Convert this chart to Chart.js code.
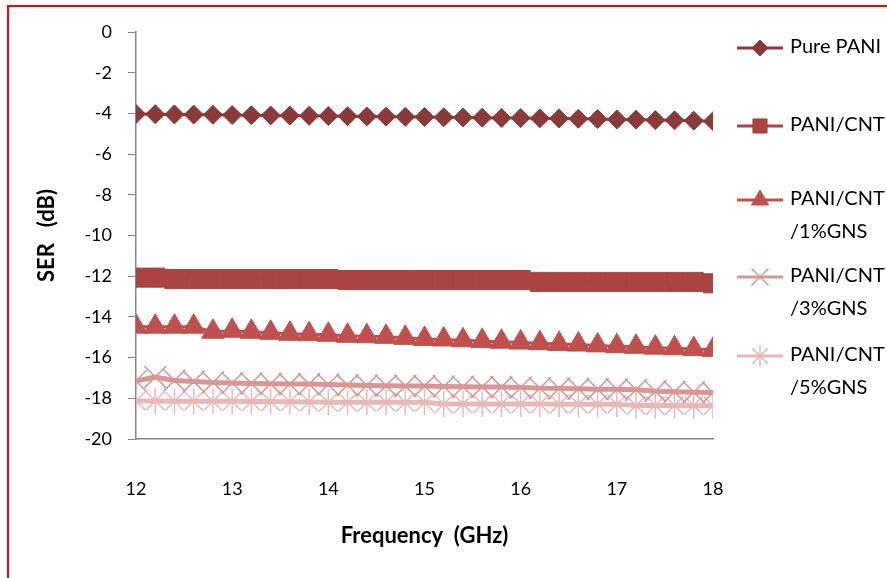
<!DOCTYPE html>
<html>
<head>
<meta charset="utf-8">
<script src="https://cdn.jsdelivr.net/npm/chart.js@4.4.1/dist/chart.umd.min.js"></script>
<style>
  html, body { margin: 0; padding: 0; background: #fff; overflow: hidden; }
  #wrap { position: relative; width: 887px; height: 578px; overflow: hidden; }
  #frame { position: absolute; left: 7px; top: 5px; width: 900px; height: 600px; border: 2px solid #ff0000; }
  #chart { position: absolute; left: 0; top: 0; }
</style>
</head>
<body>
<div id="wrap">
  <div id="frame"></div>
  <canvas id="chart" width="887" height="578"></canvas>
</div>
<script>
// Frequency points (GHz)
const freq = [12, 12.2, 12.4, 12.6, 12.8, 13, 13.2, 13.4, 13.6, 13.8, 14, 14.2, 14.4, 14.6, 14.8, 15,
  15.2, 15.4, 15.6, 15.8, 16, 16.2, 16.4, 16.6, 16.8, 17, 17.2, 17.4, 17.6, 17.8, 18];

// SER (dB) per sample
const purePani = [-4.03, -4.04, -4.05, -4.06, -4.07, -4.08, -4.09, -4.1, -4.11, -4.12, -4.13, -4.14, -4.15, -4.16, -4.17, -4.18,
  -4.19, -4.2, -4.21, -4.22, -4.23, -4.24, -4.25, -4.26, -4.28, -4.3, -4.31, -4.33, -4.34, -4.36, -4.38];
const paniCnt = [-12.07, -12.07, -12.14, -12.14, -12.14, -12.14, -12.14, -12.14, -12.14, -12.14, -12.14, -12.19, -12.19, -12.19, -12.19, -12.19,
  -12.19, -12.19, -12.19, -12.19, -12.19, -12.28, -12.28, -12.28, -12.28, -12.28, -12.28, -12.28, -12.28, -12.28, -12.35];
const gns1 = [-14.48, -14.48, -14.48, -14.48, -14.73, -14.68, -14.73, -14.78, -14.83, -14.85, -14.88, -14.93, -14.95, -14.98, -15.03, -15.08,
  -15.11, -15.15, -15.18, -15.22, -15.26, -15.29, -15.33, -15.36, -15.4, -15.44, -15.47, -15.51, -15.54, -15.58, -15.62];
const gns3 = [-17.15, -16.95, -17.12, -17.18, -17.22, -17.25, -17.27, -17.28, -17.3, -17.3, -17.32, -17.35, -17.37, -17.38, -17.4, -17.4,
  -17.42, -17.43, -17.44, -17.45, -17.47, -17.5, -17.52, -17.53, -17.55, -17.56, -17.58, -17.65, -17.68, -17.7, -17.72];
const gns5 = [-18.13, -18.13, -18.14, -18.14, -18.15, -18.15, -18.16, -18.16, -18.17, -18.18, -18.2, -18.2, -18.2, -18.2, -18.2, -18.2,
  -18.28, -18.28, -18.28, -18.28, -18.28, -18.28, -18.29, -18.29, -18.29, -18.29, -18.35, -18.35, -18.35, -18.36, -18.37];

const seriesNames = ["Pure PANI", "PANI/CNT", ["PANI/CNT", "/1%GNS"], ["PANI/CNT", "/3%GNS"], ["PANI/CNT", "/5%GNS"]];
const xTicks = [12, 13, 14, 15, 16, 17, 18];
const yTicks = [0, -2, -4, -6, -8, -10, -12, -14, -16, -18, -20];

const FONT = "Lato, 'Liberation Sans', sans-serif";
const AXIS_GREY = "#868686";

function toPoints(ys) {
  return freq.map((x, i) => ({ x, y: ys[i] }));
}

const styles = [
  { color: "#8a3a38", point: "rectRot", radius: 9.5, legendRadius: 8, width: 3 },
  { color: "#a94442", point: "rect", radius: 13.5, legendRadius: 10, width: 3 },
  { color: "#c0504d", point: "triangle", radius: 13, legendRadius: 10, width: 3 },
  { color: "#d99694", point: "crossRot", radius: 15.5, legendRadius: 12, width: 5 },
  { color: "#e6b9b8", point: "star", radius: 13, legendRadius: 11, width: 5 }
];
const seriesData = [purePani, paniCnt, gns1, gns3, gns5];

const datasets = seriesData.map((ys, i) => ({
  label: Array.isArray(seriesNames[i]) ? seriesNames[i].join(" ") : seriesNames[i],
  data: toPoints(ys),
  borderColor: styles[i].color,
  backgroundColor: styles[i].color,
  borderWidth: styles[i].width,
  pointStyle: styles[i].point,
  pointRadius: styles[i].radius,
  pointBorderWidth: (styles[i].point === "crossRot" || styles[i].point === "star") ? 1.5 : 1,
  pointBackgroundColor: styles[i].color,
  pointBorderColor: styles[i].color,
  tension: 0,
  order: i
}));

// legend drawn on the right like the spreadsheet one
const legendY = [47, 125, 199, 276, 355];
const sideLegend = {
  id: "sideLegend",
  afterDraw(chart) {
    const ctx = chart.ctx;
    ctx.save();
    seriesNames.forEach((name, i) => {
      const s = styles[i];
      const y = legendY[i] + 1;
      ctx.strokeStyle = s.color;
      ctx.lineWidth = 3;
      ctx.beginPath();
      ctx.moveTo(737, y);
      ctx.lineTo(783, y);
      ctx.stroke();
      ctx.fillStyle = s.color;
      ctx.lineWidth = (s.point === "crossRot" || s.point === "star") ? 1.5 : 1;
      if (Chart.helpers && Chart.helpers.drawPoint) {
        Chart.helpers.drawPoint(ctx, { pointStyle: s.point, radius: s.legendRadius, rotation: 0, borderWidth: ctx.lineWidth }, 760, y);
      }
      ctx.fillStyle = "#000";
      ctx.font = "20px " + FONT;
      ctx.textBaseline = "middle";
      ctx.textAlign = "left";
      const lines = Array.isArray(name) ? name : [name];
      lines.forEach((t, k) => ctx.fillText(t, 790, legendY[i] + k * 33));
    });
    ctx.restore();
  }
};

new Chart(document.getElementById("chart"), {
  type: "line",
  data: { datasets },
  options: {
    responsive: false,
    animation: false,
    layout: { padding: { left: 34, top: 32, right: 174, bottom: 25 } },
    plugins: { legend: { display: false }, tooltip: { enabled: false } },
    scales: {
      x: {
        type: "linear",
        min: 12,
        max: 18,
        afterBuildTicks: scale => { scale.ticks = xTicks.map(v => ({ value: v })); },
        afterFit: scale => { scale.height = 114; },
        grid: { drawOnChartArea: false, drawTicks: false },
        border: { color: AXIS_GREY, width: 1.5 },
        ticks: { padding: 39, color: "#000", font: { family: FONT, size: 18 }, maxRotation: 0 },
        title: { display: true, text: "Frequency  (GHz)", color: "#000", font: { family: FONT, size: 22, weight: "bold" }, padding: { top: 0, bottom: 4 } }
      },
      y: {
        min: -20,
        max: 0,
        afterBuildTicks: scale => { scale.ticks = yTicks.map(v => ({ value: v })); },
        afterFit: scale => { scale.width = 102; },
        grid: { drawOnChartArea: false, drawTicks: true, tickLength: 8, color: AXIS_GREY },
        border: { color: AXIS_GREY, width: 1.5 },
        ticks: { padding: 16, color: "#000", font: { family: FONT, size: 18 } },
        title: { display: true, text: "SER   (dB)", color: "#000", font: { family: FONT, size: 22, weight: "bold" }, padding: { top: 0, bottom: 0 } }
      }
    }
  },
  plugins: [sideLegend]
});
</script>
</body>
</html>
